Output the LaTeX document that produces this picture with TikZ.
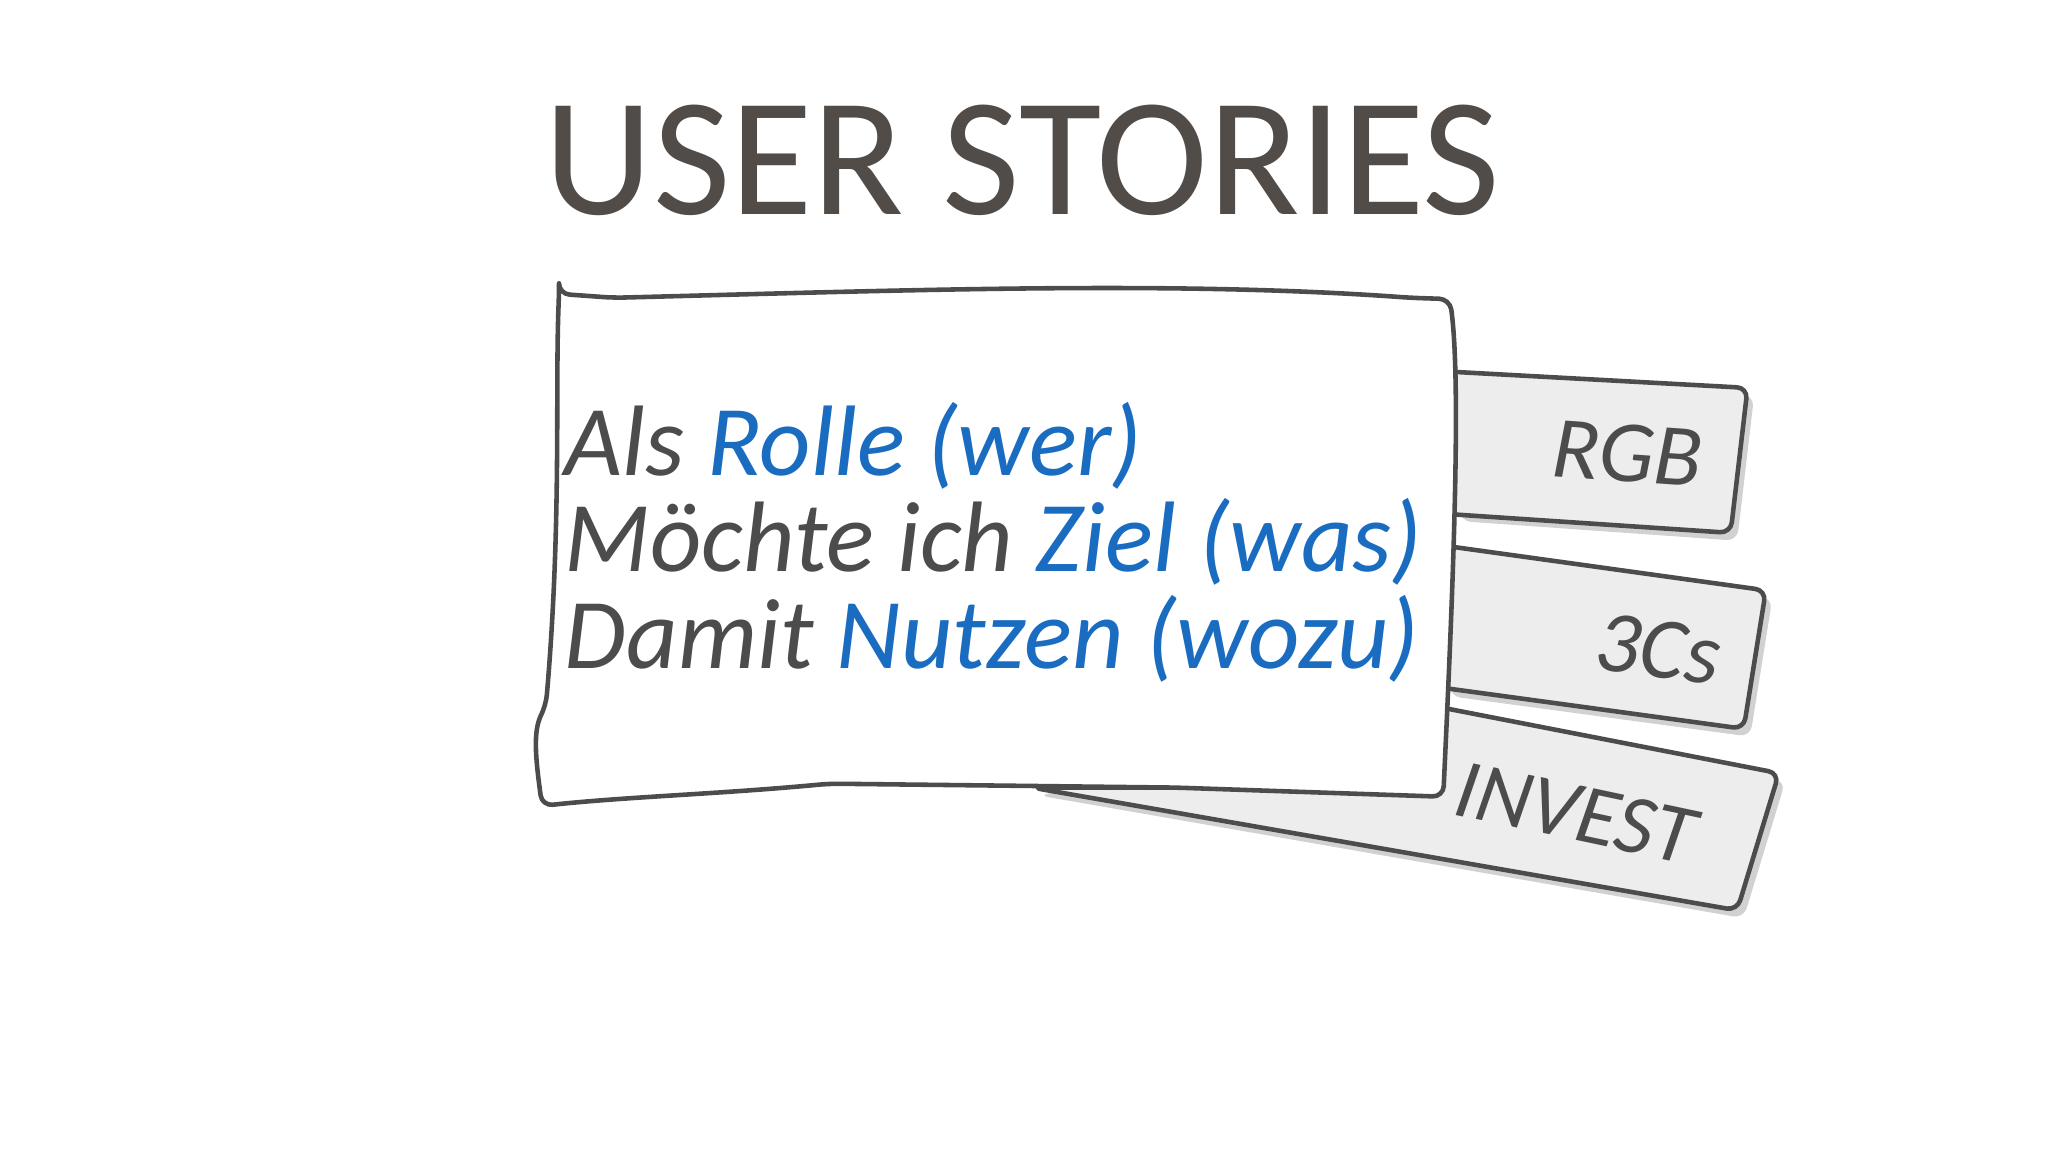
\documentclass[tikz,border=0pt]{standalone}
\usepackage{fontspec}
\setmainfont{Carlito}
\begin{document}
\begin{tikzpicture}[x=0.01306cm,y=-0.01306cm,
  card/.style={draw=black!70,line width=1.3pt,fill=white,rounded corners=3pt,line join=round},
  tab/.style={draw=black!70,line width=1.3pt,fill=black!7,rounded corners=3pt,line join=round},
  shade/.style={fill=black!18,rounded corners=3pt},
  lbl/.style={font=\fontsize{25}{30}\selectfont\itshape,text=black!70,anchor=west,inner sep=0pt}]
\useasboundingbox (0,0) rectangle (1568,882);
\definecolor{ttl}{HTML}{514C48}
\definecolor{bl}{HTML}{1A6CC0}
\node[font=\fontsize{48}{54}\selectfont,text=ttl] (title) at (783,123) {USER STORIES};
% tabs shadows
\fill[shade] (1118,291) -- (1343,303) -- (1330,414) -- (1118,399) -- cycle;
\fill[shade] (1113,424) -- (1357,458) -- (1340,564) -- (1110,533) -- cycle;
\fill[shade] (1110,549) -- (1367,598) -- (1335,703) -- (795,609) -- cycle;
% tabs
\draw[tab] (1100,284) -- (1338,297) -- (1325,408) -- (1100,393) -- cycle;
\draw[tab] (1100,417) -- (1352,452) -- (1335,558) -- (1100,526) -- cycle;
\draw[tab] (1100,541) -- (1362,592) -- (1330,697) -- (790,603) -- (1100,603) -- cycle;
\node[lbl,rotate=-4] (rgb) at (1188,343) {RGB};
\node[lbl,rotate=-8] (cs) at (1222,490) {3Cs};
\node[lbl,font=\fontsize{24}{30}\selectfont\itshape,rotate=-12] (inv) at (1115,603) {INVEST};
% main card
\draw[card] (428,225) -- (470,228) .. controls (700,222) and (900,215) .. (1080,228) -- (1110,229) .. controls (1120,300) and (1110,500) .. (1105,610) -- (900,603) -- (635,600) .. controls (550,608) and (480,610) .. (415,617) .. controls (410,580) and (408,560) .. (418,540) .. controls (430,400) and (425,300) .. (428,225) -- cycle;
\node[font=\fontsize{28.5}{27.5}\selectfont\itshape,text=black!70,align=left,anchor=west,inner sep=0pt] (txt) at (432,415)
{Als \textcolor{bl}{Rolle (wer)}\\
Möchte ich \textcolor{bl}{Ziel (was)}\\
Damit \textcolor{bl}{Nutzen (wozu)}};
\end{tikzpicture}
\end{document}
